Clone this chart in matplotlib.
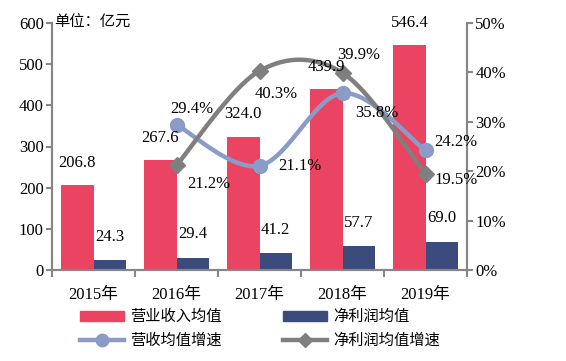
import numpy as np
import matplotlib
matplotlib.use("Agg")
import matplotlib.pyplot as plt
from matplotlib.lines import Line2D
from matplotlib.patches import Patch

years = ["2015年", "2016年", "2017年", "2018年", "2019年"]
revenue = [206.8, 267.6, 324.0, 439.9, 546.4]
profit = [24.3, 29.4, 41.2, 57.7, 69.0]
rev_growth = [29.4, 21.1, 35.8, 24.2]      # 2016-2019
prof_growth = [21.2, 40.3, 39.9, 19.5]     # 2016-2019

RED = "#EB4462"
NAVY = "#3B4B7C"
BLUE = "#8A9CC6"
GRAY = "#7F7F7F"
SPINE = "#868686"

plt.rcParams['font.family'] = ['Liberation Serif', 'Noto Sans CJK SC']
FS = 12
CFS = 11

def catmull(xs, ys, n=40):
    xs = np.asarray(xs, float); ys = np.asarray(ys, float)
    px = np.concatenate([[xs[0]], xs, [xs[-1]]])
    py = np.concatenate([[ys[0]], ys, [ys[-1]]])
    ox, oy = [], []
    for i in range(1, len(px) - 2):
        p0 = np.array([px[i-1], py[i-1]]); p1 = np.array([px[i], py[i]])
        p2 = np.array([px[i+1], py[i+1]]); p3 = np.array([px[i+2], py[i+2]])
        c1 = p1 + (p2 - p0) / 6.0
        c2 = p2 - (p3 - p1) / 6.0
        t = np.linspace(0, 1, n)[:, None]
        pts = ((1-t)**3)*p1 + 3*((1-t)**2)*t*c1 + 3*(1-t)*t**2*c2 + t**3*p2
        ox.extend(pts[:, 0]); oy.extend(pts[:, 1])
    return np.array(ox), np.array(oy)

fig = plt.figure(figsize=(5.66, 3.61), dpi=100)
ax = fig.add_axes([52/566, 1-270/361, (467-52)/566, (270-23)/361])
ax2 = ax.twinx()

x = np.arange(len(years))
w = 0.39
ax.bar(x - w/2, revenue, w, color=RED, zorder=2)
ax.bar(x + w/2, profit, w, color=NAVY, zorder=2)
ax.set_xlim(-0.5, 4.5)
ax.set_ylim(0, 600)
ax.set_yticks(range(0, 601, 100))
ax.set_xticks(np.arange(-0.5, 4.6, 1))
ax.set_xticklabels([])
ax.set_xticks(x, minor=True)
ax.set_xticklabels(years, minor=True, fontsize=FS)
ax.tick_params(axis='x', which='minor', length=0, pad=12)
ax.tick_params(axis='x', which='major', length=5, width=1.5, color=SPINE, direction='out')
ax.tick_params(axis='y', length=4, width=1.5, color=SPINE, labelsize=FS, pad=2)

for a in (ax, ax2):
    a.spines['top'].set_visible(False)
    for s in ('left', 'right', 'bottom'):
        a.spines[s].set_color(SPINE)
        a.spines[s].set_linewidth(1.5)

ax2.set_ylim(0, 50)
ax2.set_yticks(range(0, 51, 10))
ax2.set_yticklabels([f"{t}%" for t in range(0, 51, 10)])
ax2.tick_params(axis='y', length=4, width=1.5, color=SPINE, labelsize=FS, pad=2)

gx = x[1:]
sx, sy = catmull(gx, rev_growth)
ax2.plot(sx, sy, color=BLUE, lw=3.2, zorder=3, solid_capstyle='round')
ax2.plot(gx, rev_growth, 'o', color=BLUE, ms=10, zorder=4)
sx, sy = catmull(gx, prof_growth)
ax2.plot(sx, sy, color=GRAY, lw=3.2, zorder=3, solid_capstyle='round')
ax2.plot(gx, prof_growth, 'D', color=GRAY, ms=8, zorder=4)

# bar value labels drawn on top of the lines
for xi, v in zip(x, revenue):
    ax2.text(xi - w/2, v + 54, f"{v:.1f}", ha='center', va='center', fontsize=FS,
             transform=ax.transData, zorder=6)
for xi, v in zip(x, profit):
    ax2.text(xi + w/2, v + 57, f"{v:.1f}", ha='center', va='center', fontsize=FS,
             transform=ax.transData, zorder=6)

ax2.text(0.005, 1.0, "单位：亿元", transform=ax.transAxes, ha='left', va='center', fontsize=CFS)

rev_off = [(0.19, 3.2), (0.49, 0.0), (0.41, -4.0), (0.37, 1.8)]
prof_off = [(0.385, -3.8), (0.2, -4.6), (0.2, 3.6), (0.37, -1.2)]
for xi, v, (dx, dy) in zip(gx, rev_growth, rev_off):
    ax2.text(xi + dx, v + dy, f"{v:.1f}%", ha='center', va='center', fontsize=FS, zorder=5)
for xi, v, (dx, dy) in zip(gx, prof_growth, prof_off):
    ax2.text(xi + dx, v + dy, f"{v:.1f}%", ha='center', va='center', fontsize=FS, zorder=5)

handles = [
    Patch(color=RED, label="营业收入均值"),
    Line2D([], [], color=BLUE, lw=3.2, marker='o', ms=9, label="营收均值增速"),
    Patch(color=NAVY, label="净利润均值"),
    Line2D([], [], color=GRAY, lw=3.2, marker='D', ms=7, label="净利润均值增速"),
]
fig.legend(handles=handles, ncol=2, loc='center left', bbox_to_anchor=(80/566, 1 - 329/361),
           frameon=False, fontsize=CFS, handlelength=2.9, handletextpad=0.4, handleheight=0.55,
           columnspacing=4.0, labelspacing=0.6, borderaxespad=0, borderpad=0)

fig.savefig("out.png", dpi=100)
